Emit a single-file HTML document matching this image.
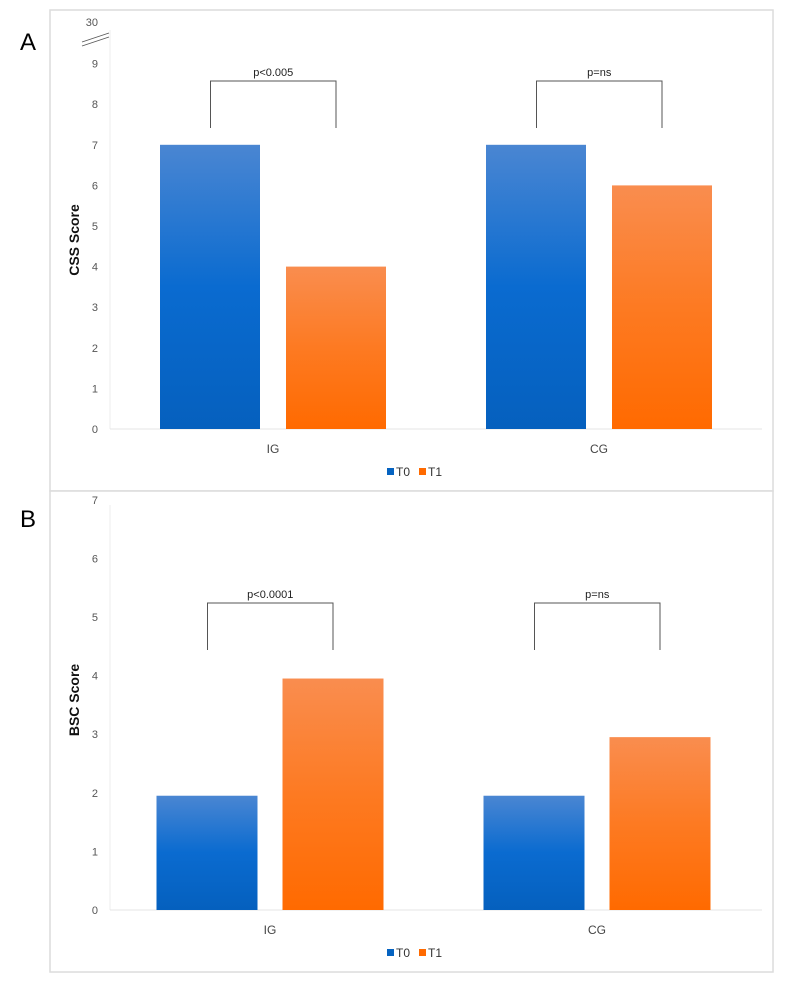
<!DOCTYPE html>
<html><head><meta charset="utf-8"><style>
body{margin:0;background:#fff;width:793px;height:997px;overflow:hidden;font-family:"Liberation Sans",sans-serif}
svg text{font-family:"Liberation Sans",sans-serif}
</style></head><body>
<svg id="fig" width="793" height="997" xmlns="http://www.w3.org/2000/svg">
<defs>
<linearGradient id="gb" x1="0" y1="0" x2="0" y2="1"><stop offset="0" stop-color="#4a86d2"/><stop offset="0.5" stop-color="#0a6bd0"/><stop offset="1" stop-color="#0560be"/></linearGradient>
<linearGradient id="go" x1="0" y1="0" x2="0" y2="1"><stop offset="0" stop-color="#f98d4f"/><stop offset="0.5" stop-color="#fd7a22"/><stop offset="1" stop-color="#ff6a00"/></linearGradient>
</defs>
<rect x="50" y="10" width="723" height="481" fill="#fff" stroke="#dcdcdc" stroke-width="1.5"/>
<rect x="50" y="491" width="723" height="481" fill="#fff" stroke="#dcdcdc" stroke-width="1.5"/>
<text x="20" y="50" font-size="24">A</text>
<text x="20" y="527" font-size="24">B</text>
<g id="ga"></g><g id="gbb"></g>
</svg>
<script>
const categories=["IG","CG"];
const seriesNames=["T0","T1"];
const cssT0=[7,7];
const cssT1=[4,6];
const bscT0=[1.95,1.95];
const bscT1=[3.95,2.95];
const cssTicks=["0","1","2","3","4","5","6","7","8","9"];
const bscTicks=["0","1","2","3","4","5","6","7"];
const cssP=["p<0.005","p=ns"];
const bscP=["p<0.0001","p=ns"];
const NS="http://www.w3.org/2000/svg";
function mk(tag,attrs,parent,txt){const e=document.createElementNS(NS,tag);for(const k in attrs)e.setAttribute(k,attrs[k]);if(txt!==undefined)e.textContent=txt;parent.appendChild(e);return e;}
function chart(g,cfg){
  const y=v=>cfg.y0-v*cfg.step;
  const ax=mk('line',{x1:110,x2:110,y1:cfg.yTop,y2:cfg.y0,stroke:'#eeeeee'},g);
  
  
  const bl=mk('line',{x1:110,x2:762,y1:cfg.y0,y2:cfg.y0,stroke:'#e4e4e4'},g);
  
  
  cfg.ticks.forEach((t,i)=>{
    const tx=mk('text',{x:98,y:y(+t)+4,'font-size':11,fill:'#555','text-anchor':'end'},g,t);
    
    
  });
  const yl=mk('text',{transform:`translate(79,${cfg.labelY}) rotate(-90)`,'font-size':14,'font-weight':'bold','text-anchor':'middle',fill:'#111'},g,cfg.label);
  
  
  categories.forEach((c,i)=>{
    const cx=cfg.centers[i];
    [cfg.s0,cfg.s1].forEach((s,j)=>{
      const x=cx-cfg.bw-cfg.gap/2+j*(cfg.bw+cfg.gap);
      const r=mk('rect',{x:x,y:y(s[i]),width:cfg.bw,height:cfg.y0-y(s[i]),fill:j?'url(#go)':'url(#gb)'},g);
      
      
    });
    const xt=mk('text',{x:cx,y:cfg.y0+24,'font-size':12,fill:'#444','text-anchor':'middle'},g,c);
    
    
    const l=cx-cfg.bw/2-cfg.gap/2+0.5,rr=cx+cfg.bw/2+cfg.gap/2;
    const br=mk('path',{d:`M${l},${cfg.brB}V${cfg.brT}H${rr}V${cfg.brB}`,fill:'none',stroke:'#555','stroke-width':1},g);
    
    
    const pt=mk('text',{x:(l+rr)/2,y:cfg.brT-5,'font-size':11,fill:'#222','text-anchor':'middle'},g,cfg.p[i]);
    
    
  });
  const ly=cfg.y0+47;
  [["T0","#0563c1",387],["T1","#ff6a00",419]].forEach(([n,col,x])=>{
    const lg=mk('g',{},g);
    
    
    mk('rect',{x:x,y:ly-8,width:7,height:7,fill:col},lg);
    mk('text',{x:x+9,y:ly,'font-size':12,fill:'#333'},lg,n);
  });
}
chart(document.getElementById('ga'),{id:'css',y0:429,step:40.6,yTop:30,ticks:cssTicks,label:'CSS Score',labelY:240,centers:[273,599],bw:100,gap:26,s0:cssT0,s1:cssT1,brT:81,brB:128,p:cssP});
chart(document.getElementById('gbb'),{id:'bsc',y0:910,step:58.6,yTop:505,ticks:bscTicks,label:'BSC Score',labelY:700,centers:[270,597],bw:101,gap:25,s0:bscT0,s1:bscT1,brT:603,brB:650,p:bscP});
const ga=document.getElementById('ga');
const t30=mk('text',{x:98,y:26,'font-size':11,fill:'#555','text-anchor':'end'},ga,'30');


const brk=mk('path',{d:'M82,42L109,33M82,46L109,37',stroke:'#555',fill:'none','stroke-width':0.8},ga);


</script>
</body></html>
